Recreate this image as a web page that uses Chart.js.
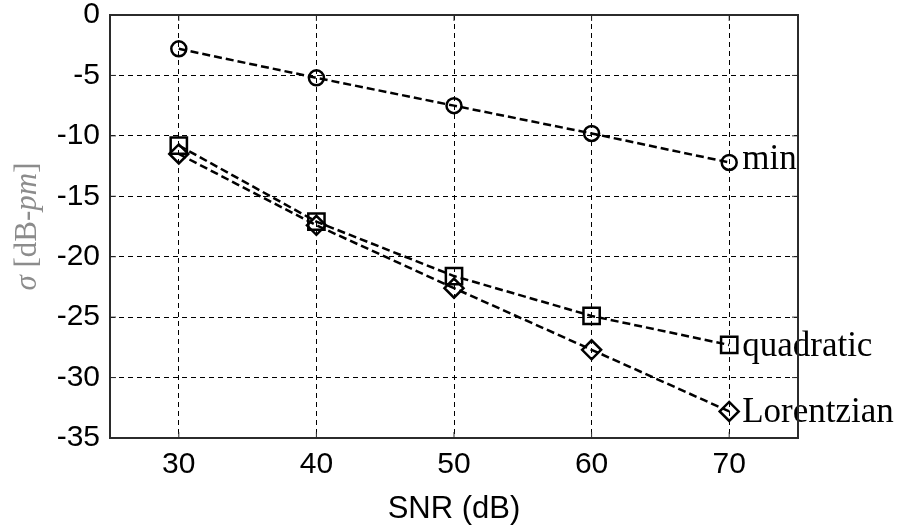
<!DOCTYPE html>
<html>
<head>
<meta charset="utf-8">
<script src="https://cdn.jsdelivr.net/npm/chart.js@4/dist/chart.umd.min.js"></script>
<style>
  html, body { margin: 0; padding: 0; background: #ffffff; }
  #wrap { width: 900px; height: 525px; position: relative; }
</style>
</head>
<body>
<div id="wrap"><canvas id="c" width="900" height="525"></canvas></div>
<script>
// ---- data ----
const snr = [30, 40, 50, 60, 70];
const minVals = [-2.8, -5.2, -7.5, -9.8, -12.2];
const quadVals = [-10.8, -17.1, -21.6, -24.9, -27.3];
const lorVals = [-11.5, -17.4, -22.6, -27.7, -32.8];
const seriesNames = ['min', 'quadratic', 'Lorentzian'];
const xTicks = [30, 40, 50, 60, 70];
const yTicks = [0, -5, -10, -15, -20, -25, -30, -35];
const xTitle = 'SNR (dB)';

function pts(vals) { return snr.map((x, i) => ({ x: x, y: vals[i] })); }

const lineStyle = {
  borderColor: '#000',
  borderWidth: 2.5,
  borderDash: [8, 4],
  pointBorderColor: '#000',
  pointBackgroundColor: 'rgba(255,255,255,0)',
  pointBorderWidth: 2.5,
  fill: false,
  tension: 0
};

const boxPlugin = {
  id: 'box',
  afterDraw(chart) {
    const a = chart.chartArea, ctx = chart.ctx;
    ctx.save();
    ctx.strokeStyle = '#2b2b2b';
    ctx.lineWidth = 2;
    ctx.setLineDash([]);
    ctx.strokeRect(a.left, a.top, a.right - a.left, a.bottom - a.top);
    ctx.lineWidth = 1;
    const xs = chart.scales.x, ys = chart.scales.y;
    xTicks.forEach(v => {
      const px = xs.getPixelForValue(v);
      ctx.beginPath(); ctx.moveTo(px, a.bottom); ctx.lineTo(px, a.bottom - 6); ctx.stroke();
      ctx.beginPath(); ctx.moveTo(px, a.top); ctx.lineTo(px, a.top + 6); ctx.stroke();
    });
    yTicks.forEach(v => {
      const py = ys.getPixelForValue(v);
      ctx.beginPath(); ctx.moveTo(a.left, py); ctx.lineTo(a.left + 6, py); ctx.stroke();
      ctx.beginPath(); ctx.moveTo(a.right, py); ctx.lineTo(a.right - 6, py); ctx.stroke();
    });
    ctx.restore();
  }
};

const seriesLabelPlugin = {
  id: 'seriesLabels',
  afterDatasetsDraw(chart) {
    const ctx = chart.ctx;
    ctx.save();
    ctx.font = '35px "Liberation Serif", "Times New Roman", serif';
    ctx.fillStyle = '#000';
    ctx.textAlign = 'left';
    ctx.textBaseline = 'alphabetic';
    chart.data.datasets.forEach((ds, i) => {
      const meta = chart.getDatasetMeta(i);
      const el = meta.data[meta.data.length - 1];
      const dy = i === 0 ? 7 : 11;
      ctx.fillText(seriesNames[i], el.x + 13, el.y + dy);
    });
    ctx.restore();
  }
};

const yTitlePlugin = {
  id: 'yTitle',
  afterDraw(chart) {
    const ctx = chart.ctx, a = chart.chartArea;
    const fs = 31;
    const parts = [
      { t: '\u03C3', f: 'italic ' + fs + 'px "Liberation Serif", serif' },
      { t: ' [', f: fs + 'px "Liberation Serif", serif' },
      { t: 'dB-', f: fs + 'px "Liberation Serif", serif' },
      { t: 'pm', f: 'italic ' + fs + 'px "Liberation Serif", serif' },
      { t: ']', f: fs + 'px "Liberation Serif", serif' }
    ];
    ctx.save();
    let total = 0;
    parts.forEach(p => { ctx.font = p.f; p.w = ctx.measureText(p.t).width; total += p.w; });
    const cy = (a.top + a.bottom) / 2;
    ctx.translate(36, cy);
    ctx.rotate(-Math.PI / 2);
    ctx.fillStyle = '#8c8c8c';
    ctx.textBaseline = 'alphabetic';
    ctx.textAlign = 'left';
    let x = -total / 2;
    parts.forEach(p => { ctx.font = p.f; ctx.fillText(p.t, x, 0); x += p.w; });
    ctx.restore();
  }
};

new Chart(document.getElementById('c'), {
  type: 'line',
  data: {
    datasets: [
      Object.assign({ label: seriesNames[0], data: pts(minVals), pointStyle: 'circle', pointRadius: 7.5 }, lineStyle),
      Object.assign({ label: seriesNames[1], data: pts(quadVals), pointStyle: 'rect', pointRadius: 11.5 }, lineStyle),
      Object.assign({ label: seriesNames[2], data: pts(lorVals), pointStyle: 'rectRot', pointRadius: 9.5 }, lineStyle)
    ]
  },
  options: {
    responsive: false,
    animation: false,
    devicePixelRatio: 1,
    layout: { padding: { left: 0, right: 102, top: 15, bottom: 0 } },
    plugins: {
      legend: { display: false },
      tooltip: { enabled: false }
    },
    scales: {
      x: {
        type: 'linear',
        min: 25, max: 75,
        afterBuildTicks(scale) { scale.ticks = xTicks.map(v => ({ value: v })); },
        afterFit(scale) { scale.height = 87; },
        border: { display: false, dash: [5, 4] },
        grid: { color: '#000', lineWidth: 1, drawTicks: false },
        ticks: {
          color: '#000',
          padding: 12,
          font: { family: '"Liberation Sans", Arial, sans-serif', size: 30, lineHeight: 1 },
          maxRotation: 0
        },
        title: {
          display: true,
          text: xTitle,
          color: '#000',
          padding: { top: 10, bottom: 0 },
          font: { family: '"Liberation Sans", Arial, sans-serif', size: 31, lineHeight: 1 }
        }
      },
      y: {
        type: 'linear',
        min: -35, max: 0,
        afterBuildTicks(scale) { scale.ticks = yTicks.map(v => ({ value: v })); },
        afterFit(scale) { scale.width = 110; scale.paddingTop = 0; scale.paddingBottom = 0; },
        border: { display: false, dash: [5, 4] },
        grid: { color: '#000', lineWidth: 1, drawTicks: false },
        ticks: {
          color: '#000',
          padding: 10,
          font: { family: '"Liberation Sans", Arial, sans-serif', size: 30, lineHeight: 0.2 }
        }
      }
    }
  },
  plugins: [boxPlugin, seriesLabelPlugin, yTitlePlugin]
});
</script>
</body>
</html>
